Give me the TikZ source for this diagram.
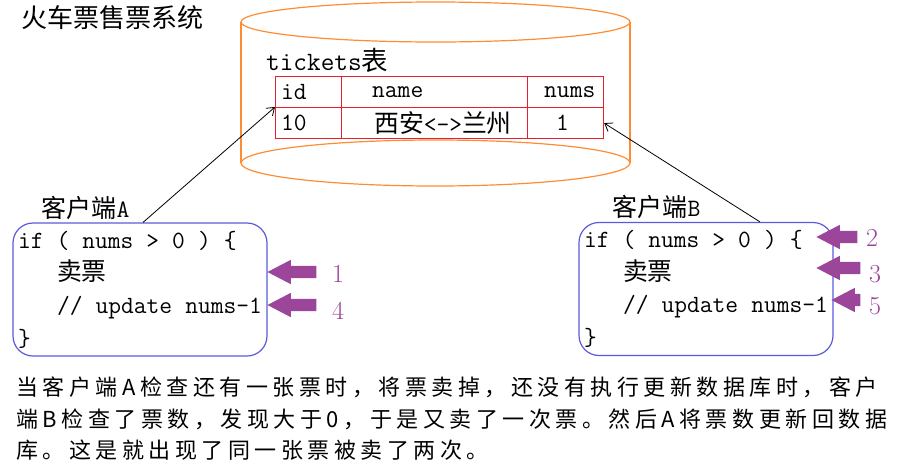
\documentclass[tikz,border=0pt]{standalone}
\usepackage{fontspec}
\newfontfamily\cjk{Noto Sans CJK SC}
\newfontfamily\cjkpara{Noto Sans CJK SC}[LetterSpace=20.5]
\usetikzlibrary{positioning, arrows.meta, shapes.arrows}
\definecolor{cylorange}{RGB}{255,140,50}
\definecolor{tabred}{RGB}{230,30,50}
\definecolor{boxblue}{RGB}{90,90,220}
\definecolor{ordpurple}{RGB}{155,70,155}
\newcommand{\codefont}{\fontsize{24.8}{32.7}\ttfamily}
\newcommand{\csp}{\hspace*{0.525em}}
\newcommand{\codelines}{if\csp(\csp nums\csp>\csp 0\csp)\csp\{\\
    \csp\csp\csp{\cjk 卖票}\\
    \csp\csp\csp//\csp update\csp nums-1\\ \}}

\begin{document}
\begin{tikzpicture}[x=1pt,y=-1pt,>={Straight Barb[length=7pt,width=10pt]},
    client/.style={draw=boxblue,line width=1.2pt,rounded corners=20pt,
        minimum width=254pt,minimum height=133pt,inner xsep=5pt,
        text width=244pt,align=left,font=\codefont},
    cell/.style={draw=tabred,line width=1.2pt,minimum height=31pt,
        anchor=north west,inner sep=0pt},
    celltext/.style={anchor=west,inner sep=0pt,font=\codefont},
    clientlabel/.style={anchor=south west,inner sep=0pt,
        font=\fontsize{25}{25}\selectfont\ttfamily},
    order/.style={single arrow,fill=ordpurple,single arrow head extend=6pt,
        single arrow tip angle=55,inner sep=6pt,shape border rotate=180,
        anchor=tip},
    ordnum/.style={text=ordpurple,inner sep=0pt,
        font=\fontsize{26}{26}\selectfont}]
\useasboundingbox (0,0) rectangle (918,469);

\node[anchor=west,inner sep=0pt,font=\cjk\fontsize{26}{26}\selectfont] (title) at (21,18) {火车票售票系统};

% database
\draw[cylorange,line width=1.2pt] (241,22) -- (241,163) (630,22) -- (630,163);
\draw[cylorange,line width=1.2pt] (435.5,22) ellipse [x radius=194.5pt,y radius=20pt];
\draw[cylorange,line width=1.2pt] (435.5,163) ellipse [x radius=194.5pt,y radius=23pt];

\node[celltext,font=\fontsize{26.5}{26.5}\selectfont\ttfamily] (tabname) at (266,60) {tickets{\cjk 表}};
\node[cell,minimum width=66pt]  (tid)    at (275,76)  {};
\node[cell,minimum width=186pt] (tname)  at (341,76)  {};
\node[cell,minimum width=76pt]  (tnums)  at (527,76)  {};
\node[cell,minimum width=66pt]  (tten)   at (275,107) {};
\node[cell,minimum width=186pt] (troute) at (341,107) {};
\node[cell,minimum width=76pt]  (tone)   at (527,107) {};
\node[celltext] at ([xshift=6pt]tid.west)     {id};
\node[celltext] at ([xshift=31pt]tname.west)  {name};
\node[celltext] at ([xshift=17pt]tnums.west)  {nums};
\node[celltext] at ([xshift=6pt]tten.west)    {10};
\node[celltext] at ([xshift=33pt]troute.west) {{\cjk 西安}<->{\cjk 兰州}};
\node[celltext,anchor=center] at ([xshift=-3pt]tone.center) {1};

% clients
\node[client] (clientA) at (140,289.5) {\codelines};
\node[client] (clientB) at (706,289) {\codelines};
\node[clientlabel] (labA) at ([xshift=29pt,yshift=3pt]clientA.north west) {{\cjk 客户端}A};
\node[clientlabel] (labB) at ([xshift=34pt,yshift=3pt]clientB.north west) {{\cjk 客户端}B};

\draw[->,line width=0.8pt] ([xshift=3pt]clientA.north) -- (tten.north west);
\draw[->,line width=0.8pt] ([xshift=54pt]clientB.north) -- (tone.east);

% order of steps
\node[order,minimum height=49pt] (ordA1) at (267,272) {};
\node[order,minimum height=49pt] (ordA4) at (267,305) {};
\node[order,minimum height=41pt] (ordB2) at (816,237) {};
\node[order,minimum height=44pt] (ordB3) at (816,268) {};
\node[order,minimum height=29pt] (ordB5) at (831,300) {};
\node[ordnum] (numA1) at (338,274) {1};
\node[ordnum] (numA4) at (338,311) {4};
\node[ordnum] (numB2) at (872,238) {2};
\node[ordnum] (numB3) at (875,274) {3};
\node[ordnum] (numB5) at (875,306) {5};

\node[anchor=north west,align=left,inner sep=0pt,
    font=\cjkpara\fontsize{22}{31.5}\selectfont] (note) at (16,377)
    {当客户端A检查还有一张票时，将票卖掉，还没有执行更新数据库时，客户\\
     端B检查了票数，发现大于0，于是又卖了一次票。然后A将票数更新回数据\\
     库。这是就出现了同一张票被卖了两次。};
\end{tikzpicture}
\end{document}
